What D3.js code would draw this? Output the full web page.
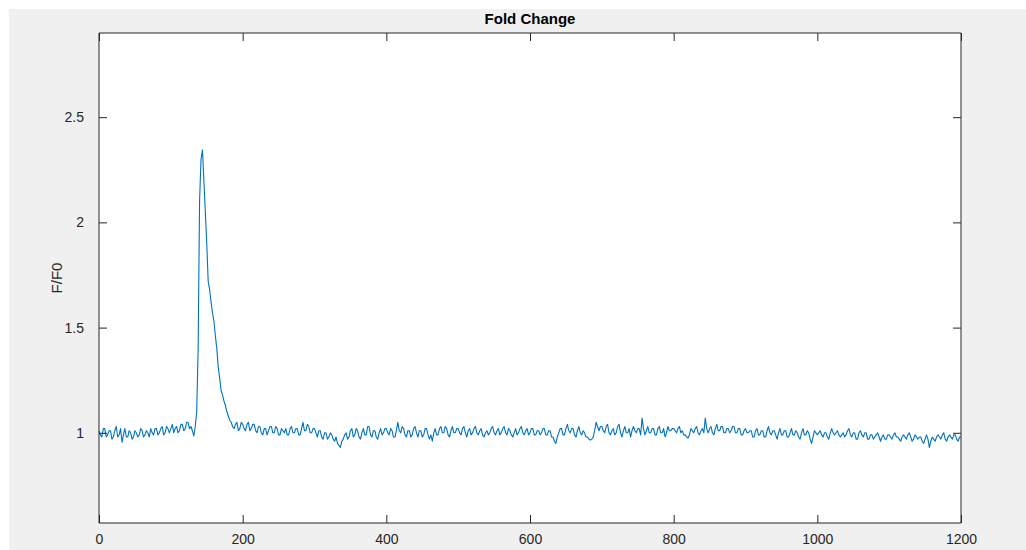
<!DOCTYPE html>
<meta charset="utf-8">
<head>
    <title>Fold Change</title>
</head>
<style>
body { margin: 0; background: #fff; }
.axis path, .axis line { stroke: #262626; }
.axis text { font-family: "Liberation Sans", Arial, sans-serif; font-size: 14px; fill: #262626; }
</style>

<script src="https://d3js.org/d3.v7.min.js"></script>

<div id="chart"></div>

<script>
// sample spacing (frames) of the trace
var step = 2;

// F/F0 values, one every 2 frames from 0 to 1200
var ratio = [
  1.01, 0.99, 0.98, 1.02, 1.02, 0.98, 0.99, 1.01, 1.01, 0.97, 0.98, 1.01, 1.03, 0.98, 0.99, 1.02, 0.955, 0.99, 1.02, 0.98,
  0.98, 1.01, 1.00, 0.97, 0.98, 1.01, 1.00, 0.98, 0.99, 1.02, 1.01, 0.98, 0.99, 1.01, 1.00, 0.98, 1.02, 1.00, 0.99, 1.02,
  1.02, 0.99, 1.00, 1.02, 1.03, 0.99, 1.00, 1.03, 1.02, 1.00,
  // 100
  1.02, 1.04, 1.00, 1.02, 1.03, 1.00, 1.01, 1.04, 1.04, 1.01, 1.02, 1.05, 1.05, 1.02, 1.03,
  1.01, 0.985, 1.03, 1.10, 1.40, 2.10, 2.30, 2.345, 2.20, 2.05,
  1.90, 1.72, 1.68, 1.62, 1.57, 1.53, 1.46, 1.40, 1.31, 1.26, 1.20, 1.18, 1.15, 1.13, 1.10,
  1.08, 1.06, 1.05, 1.03, 1.02, 1.04, 1.05, 1.01, 1.02, 1.05,
  // 200
  1.04, 1.02, 1.01, 1.04, 1.05, 1.01, 1.02, 1.04, 1.04, 1.01, 1.00, 1.03, 1.03, 1.00, 0.99, 1.02, 1.02, 0.99, 1.01, 1.03,
  1.03, 1.00, 1.00, 1.03, 1.02, 0.99, 0.99, 1.02, 1.01, 1.00, 1.02, 0.99, 0.99, 1.02, 1.03, 1.00, 1.00, 1.02, 1.02, 0.99,
  0.99, 1.02, 1.05, 1.01, 1.01, 1.04, 1.03, 1.00, 1.00, 1.02,
  // 300
  1.02, 1.00, 0.98, 1.01, 1.01, 0.98, 0.97, 1.00, 1.00, 0.97, 0.98, 1.00, 0.99, 0.97, 0.96, 0.98, 0.95, 0.94, 0.93, 0.96,
  0.97, 0.99, 1.00, 0.97, 0.98, 1.01, 1.02, 0.98, 0.99, 1.02, 1.01, 0.98, 0.97, 1.00, 1.02, 0.99, 0.99, 1.03, 1.03, 0.99,
  0.98, 1.01, 1.01, 0.98, 0.97, 1.00, 1.02, 0.99, 1.00, 1.02,
  // 400
  1.02, 1.00, 0.99, 1.02, 1.01, 0.98, 0.98, 1.01, 1.05, 1.01, 1.00, 1.03, 1.02, 0.99, 0.98, 1.01, 1.01, 0.98, 0.99, 1.02,
  1.03, 1.00, 0.98, 1.01, 1.01, 0.98, 0.99, 1.02, 1.02, 0.99, 0.97, 0.99, 0.96, 1.00, 1.02, 0.99, 0.99, 1.02, 1.03, 1.00,
  1.00, 1.03, 1.02, 0.99, 0.98, 1.01, 1.03, 1.00, 1.00, 1.02,
  // 500
  1.02, 1.00, 0.99, 1.02, 1.03, 1.00, 0.98, 1.01, 1.02, 0.99, 1.00, 1.02, 1.03, 1.00, 0.99, 1.01, 1.02, 0.99, 0.98, 1.00,
  1.01, 0.99, 1.00, 1.02, 1.03, 1.00, 0.99, 1.01, 1.02, 0.99, 1.00, 1.02, 1.03, 1.00, 0.99, 1.02, 1.01, 0.99, 0.98, 1.00,
  1.02, 0.99, 1.00, 1.02, 1.03, 1.00, 0.99, 1.01, 1.02, 0.99,
  // 600
  1.00, 1.02, 1.02, 0.99, 0.99, 1.01, 1.01, 0.99, 1.00, 1.02, 1.02, 0.99, 0.99, 1.01, 1.01, 0.98, 0.98, 0.96, 0.95, 0.98,
  1.00, 1.02, 1.02, 0.99, 0.99, 1.02, 1.04, 1.01, 1.00, 1.02, 1.02, 0.99, 0.98, 1.01, 1.03, 1.00, 0.99, 1.01, 1.00, 0.98,
  0.98, 0.97, 0.965, 0.97, 0.98, 1.01, 1.05, 1.03, 1.01, 1.03,
  // 700
  1.03, 1.01, 1.00, 1.03, 1.04, 1.00, 0.99, 1.01, 1.02, 0.99, 1.00, 1.03, 1.04, 1.00, 0.98, 1.01, 1.03, 1.00, 1.00, 1.02,
  0.98, 1.01, 1.03, 1.01, 1.00, 1.02, 1.02, 0.99, 1.07, 1.02, 0.99, 1.01, 1.03, 1.00, 1.00, 1.02, 1.02, 0.99, 0.99, 1.02,
  1.03, 1.00, 1.00, 1.02, 0.98, 1.00, 1.03, 1.01, 1.01, 1.02,
  // 800
  1.02, 1.01, 1.00, 1.02, 1.03, 1.00, 1.01, 0.99, 0.99, 0.98, 0.975, 0.99, 1.02, 1.01, 1.00, 1.02, 1.03, 1.00, 0.99, 1.01,
  1.02, 1.00, 1.07, 1.02, 1.00, 1.02, 1.03, 1.00, 0.99, 1.02, 1.04, 1.01, 1.01, 1.03, 1.03, 1.00, 1.00, 1.02, 1.02, 1.00,
  1.01, 1.03, 1.03, 1.00, 1.00, 1.02, 1.02, 0.99, 0.99, 1.01,
  // 900
  1.02, 1.00, 1.00, 1.01, 1.01, 0.98, 0.98, 1.01, 1.02, 0.99, 0.99, 1.01, 1.01, 0.98, 0.98, 1.01, 1.03, 1.00, 0.99, 1.01,
  1.01, 0.99, 0.97, 1.00, 1.02, 0.99, 0.99, 1.01, 1.01, 0.98, 0.98, 1.00, 1.02, 0.99, 0.99, 1.01, 1.00, 0.98, 0.97, 1.00,
  1.02, 0.99, 0.99, 1.01, 1.00, 0.97, 0.95, 0.98, 1.01, 1.00,
  // 1000
  0.99, 1.00, 1.01, 0.99, 0.98, 1.00, 1.00, 0.98, 0.97, 1.00, 1.02, 1.00, 0.99, 1.00, 1.01, 0.99, 0.98, 0.99, 1.00, 0.98,
  0.99, 1.01, 1.02, 0.99, 0.98, 1.00, 1.00, 0.97, 0.97, 1.00, 1.01, 0.99, 0.98, 1.00, 1.00, 0.97, 0.97, 0.99, 0.99, 0.97,
  0.98, 0.99, 1.00, 0.98, 0.96, 0.98, 0.99, 0.97, 0.97, 0.99,
  // 1100
  0.99, 0.98, 0.97, 0.99, 1.00, 0.98, 0.98, 0.97, 0.96, 0.98, 0.99, 0.98, 0.97, 0.99, 1.00, 0.98, 0.96, 0.97, 0.99, 0.98,
  0.97, 0.98, 0.98, 0.96, 0.95, 0.97, 0.99, 0.97, 0.93, 0.96, 0.98, 0.97, 0.96, 0.98, 0.99, 0.98, 0.97, 0.99, 1.00, 0.97,
  0.96, 0.98, 0.99, 0.98, 0.97, 0.99, 0.99, 0.97, 0.96, 0.98, 0.98
];

var xTicks = [0, 200, 400, 600, 800, 1000, 1200];
var yTicks = [1, 1.5, 2, 2.5];

// page and axes box
var W = 1026, H = 550;
var box = {left: 99, top: 33, right: 961, bottom: 523};

var svg = d3.select("#chart")
  .append("svg")
    .attr("width", W)
    .attr("height", H);

// grey figure background
svg.append("rect")
    .attr("x", 9).attr("y", 9)
    .attr("width", W - 9).attr("height", H - 9)
    .attr("fill", "#f0f0f0");

svg.append("rect")
    .attr("x", box.left).attr("y", box.top)
    .attr("width", box.right - box.left).attr("height", box.bottom - box.top)
    .attr("fill", "#fff");

var x = d3.scaleLinear()
    .domain([0, 1200])
    .range([box.left, box.right]);

var y = d3.scaleLinear()
    .domain([0.5714, 2.9])
    .range([box.bottom, box.top]);

var line = d3.line()
    .x(function(d, i) { return x(i * step); })
    .y(function(d) { return y(d); });

svg.append("path")
    .datum(ratio)
    .attr("fill", "none")
    .attr("stroke", "#0072BD")
    .attr("stroke-width", 1.1)
    .attr("stroke-linejoin", "round")
    .attr("d", line);

var plain = function(d) { return String(d); };

// ticks point inward, box on all four sides
svg.append("g")
    .attr("class", "axis")
    .attr("transform", "translate(0," + box.bottom + ")")
    .call(d3.axisBottom(x).tickValues(xTicks).tickSizeInner(-8).tickSizeOuter(0).tickPadding(11).tickFormat(plain))
    .call(function(g) { g.select(".domain").attr("d", "M" + box.left + ",0H" + box.right); });

svg.append("g")
    .attr("class", "axis")
    .attr("transform", "translate(0," + box.top + ")")
    .call(d3.axisTop(x).tickValues(xTicks).tickSizeInner(-8).tickSizeOuter(0).tickFormat(""))
    .call(function(g) { g.select(".domain").attr("d", "M" + box.left + ",0H" + box.right); });

svg.append("g")
    .attr("class", "axis")
    .attr("transform", "translate(" + box.left + ",0)")
    .call(d3.axisLeft(y).tickValues(yTicks).tickSizeInner(-8).tickSizeOuter(0).tickPadding(15).tickFormat(plain))
    .call(function(g) { g.select(".domain").attr("d", "M0," + box.top + "V" + box.bottom); });

svg.append("g")
    .attr("class", "axis")
    .attr("transform", "translate(" + box.right + ",0)")
    .call(d3.axisRight(y).tickValues(yTicks).tickSizeInner(-8).tickSizeOuter(0).tickFormat(""))
    .call(function(g) { g.select(".domain").attr("d", "M0," + box.top + "V" + box.bottom); });

// title and y label
svg.append("text")
    .attr("x", (box.left + box.right) / 2)
    .attr("y", 24)
    .attr("text-anchor", "middle")
    .style("font-family", "Liberation Sans, Arial, sans-serif")
    .style("font-size", "15px")
    .style("font-weight", "bold")
    .style("fill", "#000")
    .text("Fold Change");

svg.append("text")
    .attr("transform", "translate(62," + ((box.top + box.bottom) / 2) + ")rotate(-90)")
    .attr("text-anchor", "middle")
    .style("font-family", "Liberation Sans, Arial, sans-serif")
    .style("font-size", "15px")
    .style("fill", "#262626")
    .text("F/F0");
</script>
